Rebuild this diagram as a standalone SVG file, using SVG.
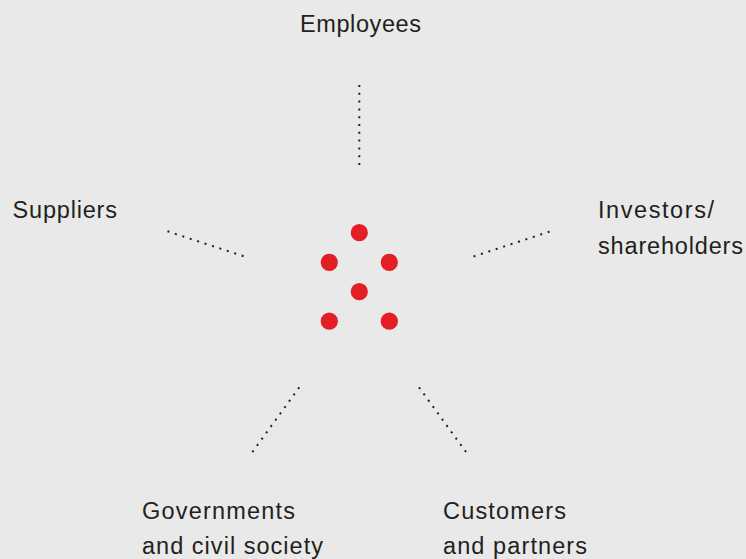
<svg xmlns="http://www.w3.org/2000/svg" width="746" height="559" viewBox="0 0 746 559">
  <style>
    .label { font-family: "Liberation Sans", Arial, sans-serif; font-size: 23.5px; fill: #231f20; }
    .link { stroke: #231f20; stroke-width: 2; stroke-dasharray: 2 5.8; fill: none; }
    .dot { fill: #e31e25; }
  </style>
  <rect width="746" height="559" fill="#e9e9e9"/>

  <!-- central cluster of red dots -->
  <g id="hub">
    <circle class="dot" cx="359.3" cy="232.7" r="8.6"/>
    <circle class="dot" cx="329.3" cy="262.3" r="8.6"/>
    <circle class="dot" cx="389.3" cy="262.3" r="8.6"/>
    <circle class="dot" cx="359.3" cy="291.7" r="8.6"/>
    <circle class="dot" cx="329.3" cy="321.2" r="8.6"/>
    <circle class="dot" cx="389.3" cy="321.2" r="8.6"/>
  </g>

  <!-- dotted connectors from hub to stakeholders -->
  <g id="connectors">
    <line class="link" x1="359.3" y1="85" x2="359.3" y2="166"/>
    <line class="link" x1="167.5" y1="231.3" x2="244.5" y2="256.5"/>
    <line class="link" x1="473.5" y1="256.5" x2="550.5" y2="231.3"/>
    <line class="link" x1="299.3" y1="387.3" x2="251.7" y2="453"/>
    <line class="link" x1="419" y1="387.3" x2="466.7" y2="453"/>
  </g>

  <g id="employees">
    <text class="label" x="300" y="32" textLength="121" lengthAdjust="spacing">Employees</text>
  </g>
  <g id="suppliers">
    <text class="label" x="12.5" y="218.3" textLength="104.5" lengthAdjust="spacing">Suppliers</text>
  </g>
  <g id="investors">
    <text class="label" x="598" y="218.3" textLength="116" lengthAdjust="spacing">Investors/</text>
    <text class="label" x="598" y="253.5" textLength="145" lengthAdjust="spacing">shareholders</text>
  </g>
  <g id="governments">
    <text class="label" x="142" y="518.5" textLength="153" lengthAdjust="spacing">Governments</text>
    <text class="label" x="142" y="553.5" textLength="181" lengthAdjust="spacing">and civil society</text>
  </g>
  <g id="customers">
    <text class="label" x="443" y="518.5" textLength="123" lengthAdjust="spacing">Customers</text>
    <text class="label" x="443" y="553.5" textLength="144" lengthAdjust="spacing">and partners</text>
  </g>
</svg>
